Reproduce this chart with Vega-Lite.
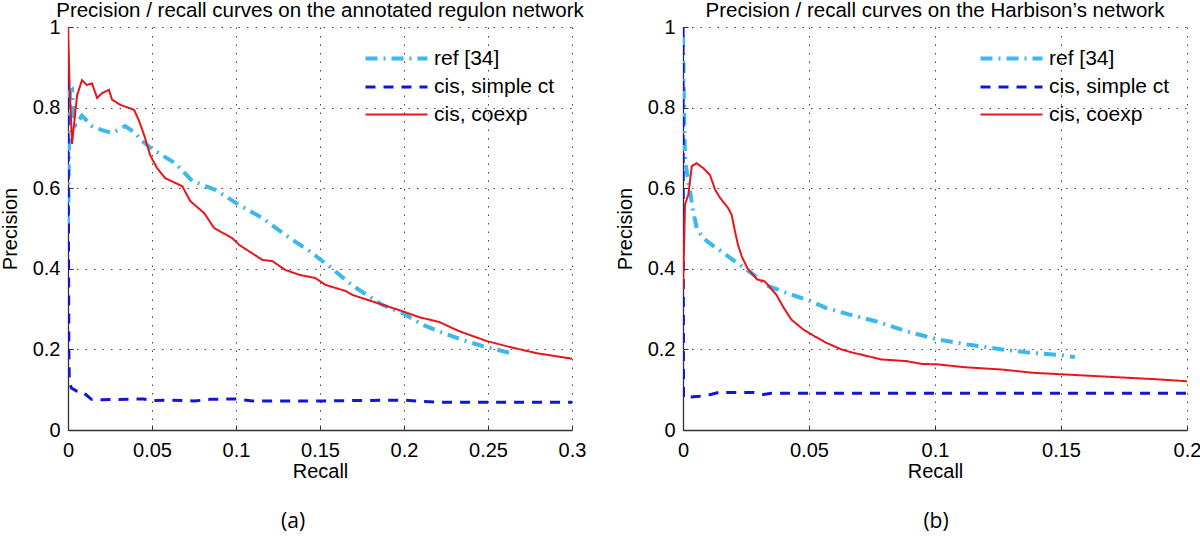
{
  "$schema": "https://vega.github.io/schema/vega-lite/v6.json",
  "background": "white",
  "padding": {"left": 0, "top": 0, "right": 0, "bottom": 0},
  "config": {
    "font": "Liberation Sans",
    "view": {"stroke": null},
    "concat": {"spacing": 29},
    "axis": {
      "domainColor": "#333333",
      "domainWidth": 1.3,
      "tickColor": "#333333",
      "tickSize": -5,
      "labelFontSize": 20,
      "labelColor": "black",
      "labelFlush": false,
      "labelOverlap": false,
      "titleFontSize": 20,
      "titleFontWeight": "normal",
      "titleColor": "black",
      "gridColor": "#444444",
      "gridDash": [1.5, 7],
      "gridWidth": 1,
      "format": "~g"
    },
    "axisX": {"labelPadding": 15, "titlePadding": 1},
    "axisY": {"labelPadding": 13, "titlePadding": 12},
    "title": {"fontSize": 20.5, "fontWeight": "normal", "color": "black", "offset": -4, "anchor": "middle"},
    "legend": {
      "orient": "none",
      "legendX": 311,
      "legendY": 14,
      "symbolType": "M-2,0H2",
      "symbolSize": 961,
      "labelFontSize": 21,
      "labelColor": "black",
      "labelOffset": 20,
      "padding": 0,
      "rowPadding": 1,
      "title": null
    }
  },
  "datasets": {
    "a": [
      {"series": "ref [34]", "recall": 0, "precision": 0.5},
      {"series": "ref [34]", "recall": 0.0006, "precision": 0.7},
      {"series": "ref [34]", "recall": 0.0012, "precision": 0.84},
      {"series": "ref [34]", "recall": 0.0024, "precision": 0.844},
      {"series": "ref [34]", "recall": 0.0035, "precision": 0.765},
      {"series": "ref [34]", "recall": 0.0045, "precision": 0.757},
      {"series": "ref [34]", "recall": 0.0083, "precision": 0.78},
      {"series": "ref [34]", "recall": 0.0143, "precision": 0.754},
      {"series": "ref [34]", "recall": 0.0203, "precision": 0.744},
      {"series": "ref [34]", "recall": 0.0262, "precision": 0.737},
      {"series": "ref [34]", "recall": 0.034, "precision": 0.754},
      {"series": "ref [34]", "recall": 0.04, "precision": 0.737},
      {"series": "ref [34]", "recall": 0.0441, "precision": 0.717},
      {"series": "ref [34]", "recall": 0.0501, "precision": 0.697},
      {"series": "ref [34]", "recall": 0.0638, "precision": 0.662},
      {"series": "ref [34]", "recall": 0.074, "precision": 0.618},
      {"series": "ref [34]", "recall": 0.0877, "precision": 0.596},
      {"series": "ref [34]", "recall": 0.102, "precision": 0.558},
      {"series": "ref [34]", "recall": 0.1157, "precision": 0.526},
      {"series": "ref [34]", "recall": 0.1294, "precision": 0.484},
      {"series": "ref [34]", "recall": 0.1437, "precision": 0.444},
      {"series": "ref [34]", "recall": 0.1574, "precision": 0.4},
      {"series": "ref [34]", "recall": 0.1694, "precision": 0.358},
      {"series": "ref [34]", "recall": 0.1873, "precision": 0.31},
      {"series": "ref [34]", "recall": 0.1992, "precision": 0.29},
      {"series": "ref [34]", "recall": 0.2111, "precision": 0.261},
      {"series": "ref [34]", "recall": 0.2231, "precision": 0.241},
      {"series": "ref [34]", "recall": 0.235, "precision": 0.223},
      {"series": "ref [34]", "recall": 0.2469, "precision": 0.208},
      {"series": "ref [34]", "recall": 0.2547, "precision": 0.2},
      {"series": "ref [34]", "recall": 0.263, "precision": 0.191},
      {"series": "cis, simple ct", "recall": 0, "precision": 0.87},
      {"series": "cis, simple ct", "recall": 0.0002, "precision": 0.6},
      {"series": "cis, simple ct", "recall": 0.0005, "precision": 0.2},
      {"series": "cis, simple ct", "recall": 0.0008, "precision": 0.12},
      {"series": "cis, simple ct", "recall": 0.002, "precision": 0.104},
      {"series": "cis, simple ct", "recall": 0.005, "precision": 0.097},
      {"series": "cis, simple ct", "recall": 0.008, "precision": 0.097},
      {"series": "cis, simple ct", "recall": 0.01, "precision": 0.09},
      {"series": "cis, simple ct", "recall": 0.014, "precision": 0.076},
      {"series": "cis, simple ct", "recall": 0.02, "precision": 0.075},
      {"series": "cis, simple ct", "recall": 0.045, "precision": 0.077},
      {"series": "cis, simple ct", "recall": 0.05, "precision": 0.073},
      {"series": "cis, simple ct", "recall": 0.06, "precision": 0.074},
      {"series": "cis, simple ct", "recall": 0.075, "precision": 0.072},
      {"series": "cis, simple ct", "recall": 0.085, "precision": 0.076},
      {"series": "cis, simple ct", "recall": 0.1, "precision": 0.077},
      {"series": "cis, simple ct", "recall": 0.11, "precision": 0.072},
      {"series": "cis, simple ct", "recall": 0.15, "precision": 0.072},
      {"series": "cis, simple ct", "recall": 0.19, "precision": 0.074},
      {"series": "cis, simple ct", "recall": 0.2, "precision": 0.074},
      {"series": "cis, simple ct", "recall": 0.21, "precision": 0.071},
      {"series": "cis, simple ct", "recall": 0.22, "precision": 0.069},
      {"series": "cis, simple ct", "recall": 0.3, "precision": 0.069},
      {"series": "cis, coexp", "recall": 0, "precision": 1.0},
      {"series": "cis, coexp", "recall": 0.001, "precision": 0.85},
      {"series": "cis, coexp", "recall": 0.0024, "precision": 0.71},
      {"series": "cis, coexp", "recall": 0.0054, "precision": 0.83},
      {"series": "cis, coexp", "recall": 0.0083, "precision": 0.868},
      {"series": "cis, coexp", "recall": 0.0113, "precision": 0.856},
      {"series": "cis, coexp", "recall": 0.0143, "precision": 0.86},
      {"series": "cis, coexp", "recall": 0.0173, "precision": 0.824},
      {"series": "cis, coexp", "recall": 0.0203, "precision": 0.836},
      {"series": "cis, coexp", "recall": 0.0244, "precision": 0.844},
      {"series": "cis, coexp", "recall": 0.0262, "precision": 0.82},
      {"series": "cis, coexp", "recall": 0.031, "precision": 0.807},
      {"series": "cis, coexp", "recall": 0.0364, "precision": 0.799},
      {"series": "cis, coexp", "recall": 0.0394, "precision": 0.794},
      {"series": "cis, coexp", "recall": 0.0423, "precision": 0.767},
      {"series": "cis, coexp", "recall": 0.0453, "precision": 0.732},
      {"series": "cis, coexp", "recall": 0.0489, "precision": 0.682},
      {"series": "cis, coexp", "recall": 0.053, "precision": 0.65},
      {"series": "cis, coexp", "recall": 0.0578, "precision": 0.625},
      {"series": "cis, coexp", "recall": 0.068, "precision": 0.605},
      {"series": "cis, coexp", "recall": 0.0728, "precision": 0.568},
      {"series": "cis, coexp", "recall": 0.0811, "precision": 0.538},
      {"series": "cis, coexp", "recall": 0.087, "precision": 0.501},
      {"series": "cis, coexp", "recall": 0.0978, "precision": 0.476},
      {"series": "cis, coexp", "recall": 0.102, "precision": 0.459},
      {"series": "cis, coexp", "recall": 0.1157, "precision": 0.422},
      {"series": "cis, coexp", "recall": 0.1217, "precision": 0.419},
      {"series": "cis, coexp", "recall": 0.1294, "precision": 0.397},
      {"series": "cis, coexp", "recall": 0.1378, "precision": 0.385},
      {"series": "cis, coexp", "recall": 0.1473, "precision": 0.377},
      {"series": "cis, coexp", "recall": 0.1533, "precision": 0.36},
      {"series": "cis, coexp", "recall": 0.1652, "precision": 0.345},
      {"series": "cis, coexp", "recall": 0.1694, "precision": 0.335},
      {"series": "cis, coexp", "recall": 0.193, "precision": 0.303},
      {"series": "cis, coexp", "recall": 0.199, "precision": 0.295},
      {"series": "cis, coexp", "recall": 0.209, "precision": 0.28},
      {"series": "cis, coexp", "recall": 0.221, "precision": 0.268},
      {"series": "cis, coexp", "recall": 0.233, "precision": 0.245},
      {"series": "cis, coexp", "recall": 0.249, "precision": 0.221},
      {"series": "cis, coexp", "recall": 0.263, "precision": 0.206},
      {"series": "cis, coexp", "recall": 0.2785, "precision": 0.191},
      {"series": "cis, coexp", "recall": 0.2905, "precision": 0.183},
      {"series": "cis, coexp", "recall": 0.3, "precision": 0.177}
    ],
    "b": [
      {"series": "ref [34]", "recall": 0, "precision": 0.98},
      {"series": "ref [34]", "recall": 0.0003, "precision": 0.85},
      {"series": "ref [34]", "recall": 0.0006, "precision": 0.72},
      {"series": "ref [34]", "recall": 0.001, "precision": 0.66},
      {"series": "ref [34]", "recall": 0.0028, "precision": 0.593},
      {"series": "ref [34]", "recall": 0.004, "precision": 0.543},
      {"series": "ref [34]", "recall": 0.0055, "precision": 0.5},
      {"series": "ref [34]", "recall": 0.008, "precision": 0.476},
      {"series": "ref [34]", "recall": 0.012, "precision": 0.457},
      {"series": "ref [34]", "recall": 0.016, "precision": 0.44},
      {"series": "ref [34]", "recall": 0.0187, "precision": 0.427},
      {"series": "ref [34]", "recall": 0.0278, "precision": 0.386},
      {"series": "ref [34]", "recall": 0.0339, "precision": 0.357},
      {"series": "ref [34]", "recall": 0.043, "precision": 0.336},
      {"series": "ref [34]", "recall": 0.0506, "precision": 0.32},
      {"series": "ref [34]", "recall": 0.0567, "precision": 0.303},
      {"series": "ref [34]", "recall": 0.0658, "precision": 0.287},
      {"series": "ref [34]", "recall": 0.0764, "precision": 0.27},
      {"series": "ref [34]", "recall": 0.0886, "precision": 0.245},
      {"series": "ref [34]", "recall": 0.1008, "precision": 0.225},
      {"series": "ref [34]", "recall": 0.1129, "precision": 0.212},
      {"series": "ref [34]", "recall": 0.1266, "precision": 0.2},
      {"series": "ref [34]", "recall": 0.1372, "precision": 0.192},
      {"series": "ref [34]", "recall": 0.1494, "precision": 0.186},
      {"series": "ref [34]", "recall": 0.1555, "precision": 0.181},
      {"series": "cis, simple ct", "recall": 0, "precision": 1.0},
      {"series": "cis, simple ct", "recall": 0.0001, "precision": 0.5},
      {"series": "cis, simple ct", "recall": 0.0002, "precision": 0.08},
      {"series": "cis, simple ct", "recall": 0.0065, "precision": 0.084},
      {"series": "cis, simple ct", "recall": 0.011, "precision": 0.088},
      {"series": "cis, simple ct", "recall": 0.014, "precision": 0.093},
      {"series": "cis, simple ct", "recall": 0.028, "precision": 0.093},
      {"series": "cis, simple ct", "recall": 0.032, "precision": 0.088},
      {"series": "cis, simple ct", "recall": 0.035, "precision": 0.091},
      {"series": "cis, simple ct", "recall": 0.2, "precision": 0.091},
      {"series": "cis, coexp", "recall": 0, "precision": 0.35},
      {"series": "cis, coexp", "recall": 0.0004, "precision": 0.45},
      {"series": "cis, coexp", "recall": 0.0008, "precision": 0.56},
      {"series": "cis, coexp", "recall": 0.0021, "precision": 0.583},
      {"series": "cis, coexp", "recall": 0.0035, "precision": 0.655},
      {"series": "cis, coexp", "recall": 0.0054, "precision": 0.662},
      {"series": "cis, coexp", "recall": 0.008, "precision": 0.65},
      {"series": "cis, coexp", "recall": 0.0107, "precision": 0.633},
      {"series": "cis, coexp", "recall": 0.0127, "precision": 0.597},
      {"series": "cis, coexp", "recall": 0.0147, "precision": 0.576},
      {"series": "cis, coexp", "recall": 0.0179, "precision": 0.551},
      {"series": "cis, coexp", "recall": 0.0193, "precision": 0.534},
      {"series": "cis, coexp", "recall": 0.0206, "precision": 0.494},
      {"series": "cis, coexp", "recall": 0.0218, "precision": 0.46},
      {"series": "cis, coexp", "recall": 0.0233, "precision": 0.431},
      {"series": "cis, coexp", "recall": 0.0255, "precision": 0.402},
      {"series": "cis, coexp", "recall": 0.0293, "precision": 0.374},
      {"series": "cis, coexp", "recall": 0.0324, "precision": 0.369},
      {"series": "cis, coexp", "recall": 0.037, "precision": 0.336},
      {"series": "cis, coexp", "recall": 0.04, "precision": 0.303},
      {"series": "cis, coexp", "recall": 0.043, "precision": 0.274},
      {"series": "cis, coexp", "recall": 0.0476, "precision": 0.25},
      {"series": "cis, coexp", "recall": 0.0521, "precision": 0.233},
      {"series": "cis, coexp", "recall": 0.0567, "precision": 0.217},
      {"series": "cis, coexp", "recall": 0.0628, "precision": 0.2},
      {"series": "cis, coexp", "recall": 0.0673, "precision": 0.192},
      {"series": "cis, coexp", "recall": 0.0734, "precision": 0.183},
      {"series": "cis, coexp", "recall": 0.0787, "precision": 0.175},
      {"series": "cis, coexp", "recall": 0.0886, "precision": 0.171},
      {"series": "cis, coexp", "recall": 0.0947, "precision": 0.164},
      {"series": "cis, coexp", "recall": 0.1008, "precision": 0.163},
      {"series": "cis, coexp", "recall": 0.1114, "precision": 0.156},
      {"series": "cis, coexp", "recall": 0.1266, "precision": 0.15},
      {"series": "cis, coexp", "recall": 0.1388, "precision": 0.142},
      {"series": "cis, coexp", "recall": 0.157, "precision": 0.136},
      {"series": "cis, coexp", "recall": 0.1722, "precision": 0.131},
      {"series": "cis, coexp", "recall": 0.1874, "precision": 0.126},
      {"series": "cis, coexp", "recall": 0.2, "precision": 0.121}
    ]
  },
  "hconcat": [
    {
      "title": {"text": "(a)", "orient": "bottom", "font": "Open Sans", "fontSize": 21, "offset": 30},
      "vconcat": [
        {
          "width": 504,
          "height": 403,
          "title": {"text": "Precision / recall curves on the annotated regulon network"},
          "data": {"name": "a"},
          "mark": {"type": "line", "clip": true},
          "encoding": {
            "x": {"field": "recall", "type": "quantitative", "scale": {"domain": [0, 0.3], "nice": false, "zero": false}, "axis": {"values": [0, 0.05, 0.1, 0.15, 0.2, 0.25, 0.3], "title": "Recall"}},
            "y": {"field": "precision", "type": "quantitative", "scale": {"domain": [0, 1], "nice": false}, "axis": {"values": [0, 0.2, 0.4, 0.6, 0.8, 1], "title": "Precision"}},
            "color": {"field": "series", "type": "nominal", "sort": ["ref [34]", "cis, simple ct", "cis, coexp"], "scale": {"domain": ["ref [34]", "cis, simple ct", "cis, coexp"], "range": ["#3DB8EC", "#1414D6", "#E8161C"]}},
            "strokeDash": {"field": "series", "type": "nominal", "sort": ["ref [34]", "cis, simple ct", "cis, coexp"], "scale": {"domain": ["ref [34]", "cis, simple ct", "cis, coexp"], "range": [[12, 6, 2, 6], [10, 8], [1, 0]]}},
            "strokeWidth": {"field": "series", "type": "ordinal", "sort": ["ref [34]", "cis, simple ct", "cis, coexp"], "scale": {"domain": ["ref [34]", "cis, simple ct", "cis, coexp"], "range": [4, 2, 2]}}
          }
        }
      ]
    },
    {
      "title": {"text": "(b)", "orient": "bottom", "font": "Open Sans", "fontSize": 21, "dx": 28, "offset": 30},
      "vconcat": [
        {
          "width": 504,
          "height": 403,
          "title": {"text": "Precision / recall curves on the Harbison’s network"},
          "data": {"name": "b"},
          "mark": {"type": "line", "clip": true},
          "encoding": {
            "x": {"field": "recall", "type": "quantitative", "scale": {"domain": [0, 0.2], "nice": false, "zero": false}, "axis": {"values": [0, 0.05, 0.1, 0.15, 0.2], "title": "Recall"}},
            "y": {"field": "precision", "type": "quantitative", "scale": {"domain": [0, 1], "nice": false}, "axis": {"values": [0, 0.2, 0.4, 0.6, 0.8, 1], "title": "Precision"}},
            "color": {"field": "series", "type": "nominal", "sort": ["ref [34]", "cis, simple ct", "cis, coexp"], "scale": {"domain": ["ref [34]", "cis, simple ct", "cis, coexp"], "range": ["#3DB8EC", "#1414D6", "#E8161C"]}},
            "strokeDash": {"field": "series", "type": "nominal", "sort": ["ref [34]", "cis, simple ct", "cis, coexp"], "scale": {"domain": ["ref [34]", "cis, simple ct", "cis, coexp"], "range": [[12, 6, 2, 6], [10, 8], [1, 0]]}},
            "strokeWidth": {"field": "series", "type": "ordinal", "sort": ["ref [34]", "cis, simple ct", "cis, coexp"], "scale": {"domain": ["ref [34]", "cis, simple ct", "cis, coexp"], "range": [4, 2, 2]}}
          }
        }
      ]
    }
  ],
  "resolve": {
    "scale": {"color": "independent", "strokeDash": "independent", "strokeWidth": "independent", "x": "independent", "y": "independent"},
    "legend": {"color": "independent", "strokeDash": "independent", "strokeWidth": "independent"}
  }
}
